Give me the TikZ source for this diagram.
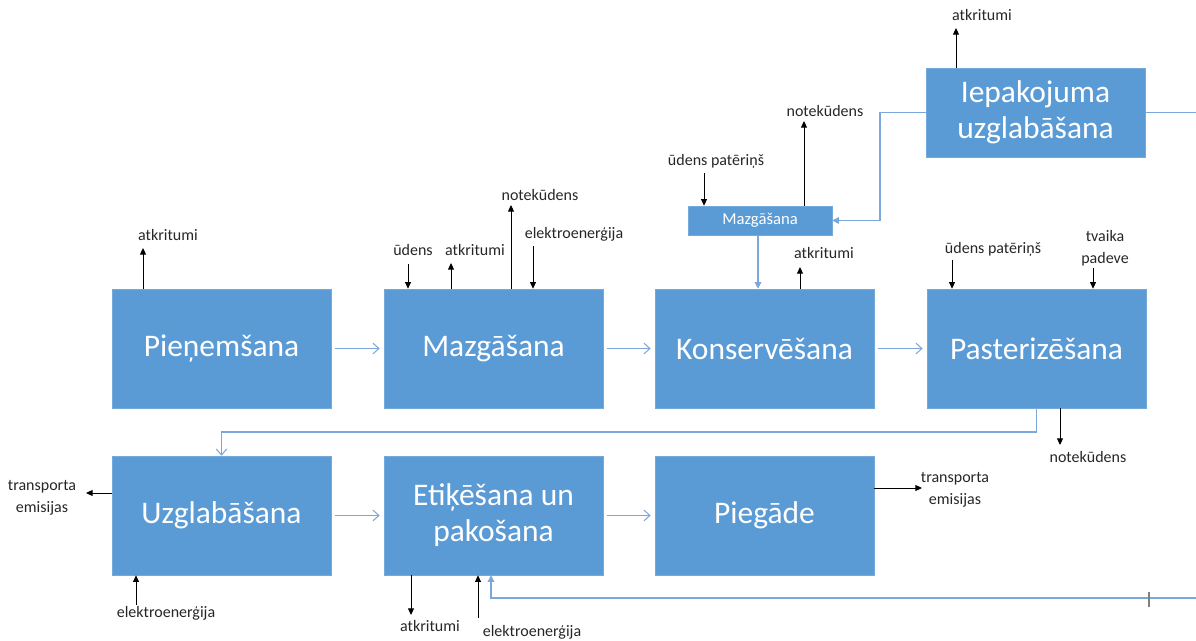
\documentclass[tikz,border=0pt]{standalone}
\usepackage{fontspec}
\setmainfont{Carlito}
\usetikzlibrary{arrows.meta}
\definecolor{boxblue}{HTML}{5B9BD5}
\definecolor{lineblue}{HTML}{7BA7DA}
\definecolor{txt}{HTML}{262626}
\tikzset{
  proc/.style={fill=boxblue, draw=boxblue!85!white, text=white, align=center, inner sep=0pt,
    minimum width=164.25pt, minimum height=89.25pt, font=\fontsize{23.6}{27}\selectfont},
  lab/.style={text=txt, inner sep=0pt, align=center, font=\fontsize{12}{16.5}\selectfont},
  blk/.style={draw=black, line width=0.7pt, -{Triangle[length=5pt,width=4.5pt]}},
  flow/.style={draw=lineblue, line width=0.8pt, -{Straight Barb[length=4.5pt,width=8pt]}},
  flowf/.style={draw=lineblue, line width=0.8pt, -{Triangle[length=5pt,width=5pt]}},
  flowline/.style={draw=lineblue, line width=0.8pt},
}
\begin{document}
\begin{tikzpicture}[x=0.75pt,y=-0.75pt]
\useasboundingbox (0,0) rectangle (1196,641);

% process boxes
\node[proc] (pien) at (221.5,348.5) {Pieņemšana};
\node[proc] (mazg) at (493.5,348.5) {Mazgāšana};
\node[proc] (kons) at (764.5,348.5) {Konservēšana};
\node[proc] (past) at (1036.5,348.5) {Pasterizēšana};
\node[proc] (uzgl) at (221.5,515.5) {Uzglabāšana};
\node[proc] (etik) at (493.5,515.5) {Etiķēšana un\\pakošana};
\node[proc] (pieg) at (764.5,515.5) {Piegāde};
\node[proc, minimum height=66.75pt] (iep) at (1035.5,112.5) {Iepakojuma\\uzglabāšana};
\node[proc, minimum width=108pt, minimum height=21.75pt, font=\fontsize{12.5}{14}\selectfont] (smaz) at (760,220.5) {Mazgāšana};

% main flow
\draw[flow, shorten <=3pt, shorten >=3pt] (pien) -- (mazg);
\draw[flow, shorten <=3pt, shorten >=3pt] (mazg) -- (kons);
\draw[flow, shorten <=3pt, shorten >=3pt] (kons) -- (past);
\draw[flow, shorten <=3pt, shorten >=3pt] (uzgl) -- (etik);
\draw[flow, shorten <=3pt, shorten >=3pt] (etik) -- (pieg);
\draw[flow] (past.south) -- (past.south |- 0,432) -| (uzgl.north);
\draw[flowf] (iep.west) -- (iep.west -| 880,0) |- (smaz.east);
\draw[flowf] (smaz.south -| 758,0) -- (kons.north -| 758,0);
\coordinate (rtop) at (1196,112.5);
\draw[flowline] (iep.east) -- (rtop);
\coordinate (rbot) at (1196,598);
\draw[flowf] (rbot) -- (491,598) -- (etik.south -| 491,0);
\draw[draw=gray, line width=0.8pt] (1149,592) -- (1149,607);

% labels
\node[lab] (l1) at (168,235) {atkritumi};
\node[lab] (l2) at (413,250) {ūdens};
\node[lab] (l3) at (475,250) {atkritumi};
\node[lab] (l4) at (540,195) {notekūdens};
\node[lab] (l5) at (574,234) {elektroenerģija};
\node[lab] (l6) at (824,253) {atkritumi};
\node[lab] (l7) at (825,111) {notekūdens};
\node[lab] (l8) at (716,161) {ūdens patēriņš};
\node[lab] (l9) at (993,249) {ūdens patēriņš};
\node[lab] (l10) at (1105,248) {tvaika\\padeve};
\node[lab] (l11) at (1088,457) {notekūdens};
\node[lab] (l12) at (982,15) {atkritumi};
\node[lab] (l13) at (42,498) {transporta\\emisijas};
\node[lab] (l14) at (166,613) {elektroenerģija};
\node[lab] (l15) at (430,626) {atkritumi};
\node[lab] (l16) at (532,632) {elektroenerģija};
\node[lab] (l17) at (955,490) {transporta\\emisijas};

% black arrows
\draw[blk] (pien.north -| 143,0) -- (143,248);
\draw[blk] (408,264) -- (mazg.north -| 408,0);
\draw[blk] (mazg.north -| 451,0) -- (451,263);
\draw[blk] (mazg.north -| 511,0) -- (511,205);
\draw[blk] (533,246) -- (mazg.north -| 533,0);
\draw[blk] (kons.north -| 800,0) -- (800,267);
\draw[blk] (smaz.north -| 804,0) -- (804,121);
\draw[blk] (704,173) -- (smaz.north -| 704,0);
\draw[blk] (952,260) -- (past.north -| 952,0);
\draw[blk] (1093,268) -- (past.north -| 1093,0);
\draw[blk] (past.south -| 1060,0) -- (1060,445);
\draw[blk] (iep.north -| 956,0) -- (956,28);
\draw[blk] (uzgl.west |- 0,493) -- (86,493);
\draw[blk] (136,605) -- (uzgl.south -| 136,0);
\draw[blk] (etik.south -| 411,0) -- (411,615);
\draw[blk] (478,618) -- (etik.south -| 478,0);
\draw[blk] (pieg.east |- 0,488) -- (922,488);
\end{tikzpicture}
\end{document}
